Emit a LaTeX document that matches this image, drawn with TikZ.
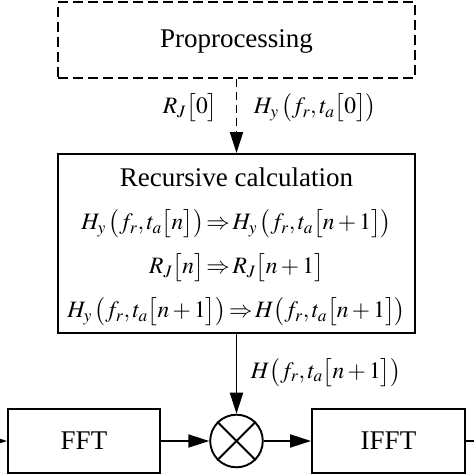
\documentclass[tikz,border=0pt]{standalone}
\usepackage{mathptmx}
\usepackage{fontspec}
\setmainfont{Liberation Serif}
\usetikzlibrary{arrows.meta}
\newcommand{\mth}[1]{{\fontsize{23.5}{26}\selectfont$#1$}}
\tikzset{
  block/.style={draw, line width=1.9pt, inner sep=0pt},
  arr/.style={line width=1.9pt, -{Triangle[length=21pt,width=13pt]}},
  lab/.style={inner sep=0pt},
}
\begin{document}
\begin{tikzpicture}[x=1pt, y=1pt, font=\fontsize{27}{32}\selectfont]
\useasboundingbox (0,0) rectangle (474,474);
\node[block, dashed, dash pattern=on 10pt off 5pt, minimum width=357pt, minimum height=76pt] (prep) at (236.5,434) {};
\node[lab, anchor=base] (preptext) at (236.5,426) {Proprocessing};
\node[block, minimum width=357pt, minimum height=179pt] (rec) at (236.5,230.5) {};
\node[lab, anchor=base] (title) at (236.5,287) {Recursive calculation};
\node[lab, anchor=base] (stepH) at (236.5,244) {\mth{H_y\,\bigl(f_r,t_a\bigl[n\bigr]\bigr)\!\Rightarrow\! H_y\,\bigl(f_r,t_a\bigl[n+1\bigr]\bigr)}};
\node[lab, anchor=base] (stepR) at (236.5,200) {\mth{R_J\bigl[n\bigr]\!\Rightarrow\! R_J\bigl[n+1\bigr]}};
\node[lab, anchor=base] (stepHH) at (236.5,156) {\mth{H_y\,\bigl(f_r,t_a\bigl[n+1\bigr]\bigr)\!\Rightarrow\! H\bigl(f_r,t_a\bigl[n+1\bigr]\bigr)}};
\node[block, circle, minimum size=52.6pt] (mul) at (236.5,33) {};
\node[block, minimum width=152pt, minimum height=64pt] (fft) at (84,33) {FFT};
\node[block, minimum width=153pt, minimum height=64pt] (ifft) at (388.5,33) {IFFT};
\coordinate (in) at (-20,33);
\coordinate (out) at (494,33);

% cross in the multiplier
\draw[line width=1.9pt] (mul.north west) -- (mul.south east);
\draw[line width=1.9pt] (mul.north east) -- (mul.south west);

\draw[arr, dashed, dash pattern=on 8pt off 5pt] (prep) -- node[lab, pos=0.39, left=18pt] {\mth{R_J\bigl[0\bigr]}} node[lab, pos=0.39, right=16.5pt] {\mth{H_y\,\bigl(f_r,t_a\bigl[0\bigr]\bigr)}} (rec);
\draw[arr] (rec) -- node[lab, pos=0.48, right=13.5pt] {\mth{H\bigl(f_r,t_a\bigl[n+1\bigr]\bigr)}} (mul);
\draw[arr] (in) -- (fft);
\draw[arr] (fft) -- (mul);
\draw[arr] (mul) -- (ifft);
\draw[line width=1.9pt] (ifft) -- (out);
\end{tikzpicture}
\end{document}
